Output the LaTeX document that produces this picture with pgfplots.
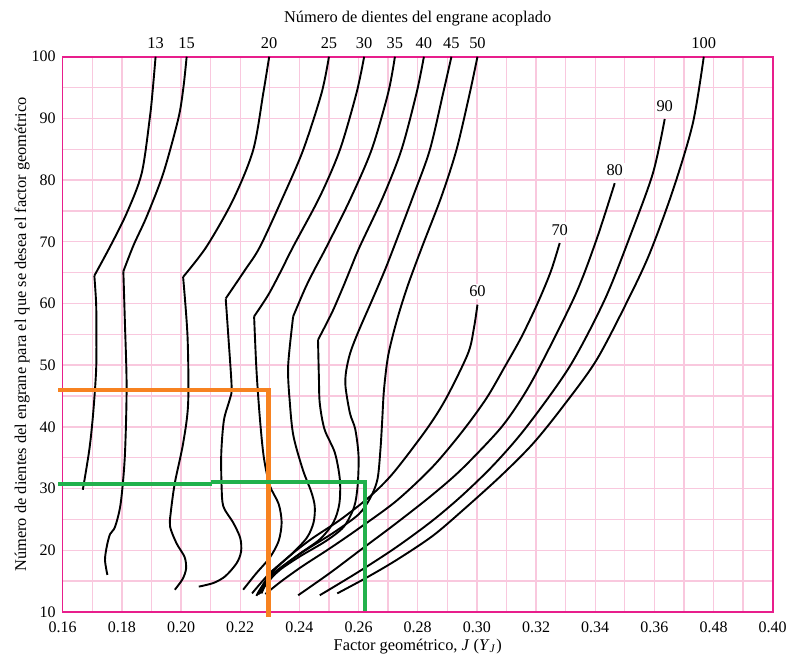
\documentclass[border=0pt]{standalone}
\usepackage{fontspec}
\setmainfont{Liberation Serif}
\usepackage{pgfplots}
\pgfplotsset{compat=1.18}
\definecolor{framepink}{RGB}{232,30,140}
\definecolor{gridpink}{RGB}{249,200,222}
\definecolor{myorange}{RGB}{247,130,32}
\definecolor{mygreen}{RGB}{34,177,76}
\newcommand\lbl{\fontsize{8.2}{9}\selectfont}
\tikzset{lab/.style={pos=0,anchor=south,yshift=2.3pt,fill=white,inner sep=1pt,font=\lbl}}
\pgfplotsset{crv/.style={black, solid, line width=0.95pt, mark=none, smooth}}
\begin{document}
\begin{tikzpicture}
\path[use as bounding box] (-31.35pt,-24.5pt) rectangle (363.65pt,305.95pt);
\begin{axis}[
  at={(0,0)}, anchor=south west,
  scale only axis, width=355pt, height=277.6pt,
  xmin=0.16, xmax=0.40, ymin=10, ymax=100,
  xtick={0.16,0.18,0.20,0.22,0.24,0.26,0.28,0.30,0.32,0.34,0.36,0.38,0.40},
  xticklabels={0.16,0.18,0.20,0.22,0.24,0.26,0.28,0.30,0.32,0.34,0.36,0.48,0.40},
  minor xtick={0.17,0.19,0.21,0.23,0.25,0.27,0.29,0.31,0.33,0.35,0.37,0.39},
  ytick={10,20,30,40,50,60,70,80,90,100},
  minor ytick={15,25,35,45,55,65,75,85,95},
  grid=both,
  major grid style={draw=gridpink, line width=0.7pt},
  minor grid style={draw=gridpink, line width=0.7pt},
  axis line style={draw=framepink, line width=0.8pt},
  major tick length=0pt, minor tick length=0pt,
  /pgf/number format/assume math mode=true,
  tick label style={font=\fontsize{8}{9}\selectfont},
  xticklabel style={yshift=-1.5pt},
  clip=false,
]
% 13
\addplot[crv] coordinates {(0.1914,100) (0.1905,95) (0.1895,90.3) (0.1867,81.1) (0.1816,74.6) (0.1760,69.2) (0.1707,64.5)};
\addplot[crv] coordinates {(0.1707,64.5) (0.1713,60) (0.1714,55) (0.1713,49.2) (0.1703,42.2) (0.1690,36.3) (0.1668,29.8)};
% 15
\addplot[crv] coordinates {(0.2019,100) (0.2008,95) (0.1991,90) (0.1940,81.1) (0.1884,74.1) (0.1840,69.5) (0.1805,65.2)};
\addplot[crv] coordinates {(0.1805,65.2) (0.1810,57.3) (0.1816,46.5) (0.1810,35.2) (0.1796,27.6) (0.1777,23.8) (0.1760,22.6) (0.1749,20.6) (0.1743,18.4) (0.1751,16.0)};
% 20
\addplot[crv] coordinates {(0.2298,100) (0.2278,94.1) (0.2244,84.9) (0.2176,76.8) (0.2086,69.2) (0.2007,64.3)};
\addplot[crv] coordinates {(0.2007,64.3) (0.2022,54.6) (0.2024,43.8) (0.2007,37.3) (0.1979,30.9) (0.1965,26) (0.1963,23.8) (0.1985,21.1) (0.2012,18.9) (0.2017,17.0) (0.2005,15.3) (0.1979,13.6)};
% 25
\addplot[crv] coordinates {(0.2500,100) (0.2475,94.1) (0.2413,84.9) (0.2345,77.3) (0.2267,69.2) (0.2216,65.4) (0.2151,60.8)};
\addplot[crv] coordinates {(0.2151,60.8) (0.2160,54.6) (0.2171,46.5) (0.2165,44.5) (0.2145,41.1) (0.2136,35.7) (0.2137,30.5) (0.2143,27.1) (0.2176,24.5) (0.2200,22.0) (0.2203,19.8) (0.2188,17.9) (0.2150,15.8) (0.2110,14.7) (0.2060,14.1)};
% 30
\addplot[crv] coordinates {(0.2619,100) (0.2593,94.1) (0.2537,84.9) (0.2469,77.3) (0.2379,69.2) (0.2335,65.0) (0.2295,61.4) (0.2247,57.9)};
\addplot[crv] coordinates {(0.2247,57.9) (0.2255,49.2) (0.2267,41.1) (0.2280,35.0) (0.2300,30.5) (0.2330,27.5) (0.2340,24.5) (0.2330,21.5) (0.2300,18.8) (0.2255,16.3) (0.2210,13.6)};
% 35
\addplot[crv] coordinates {(0.2723,100) (0.2700,94.1) (0.2644,84.9) (0.2571,76.8) (0.2492,69.2) (0.2450,65.4) (0.2420,62.5) (0.2379,57.9)};
\addplot[crv] coordinates {(0.2379,57.9) (0.2362,49.8) (0.2368,43.8) (0.2380,38.5) (0.2412,33.0) (0.2440,29.5) (0.2452,27.1) (0.2448,24.5) (0.2425,22.0) (0.2370,19.2) (0.2300,16.3) (0.2240,13.0)};
% 40
\addplot[crv] coordinates {(0.2821,100) (0.2796,94.1) (0.2745,84.9) (0.2683,77.3) (0.2604,69.2) (0.2571,65.4) (0.2548,62.7) (0.2510,58.5) (0.2463,54.1)};
\addplot[crv] coordinates {(0.2463,54.1) (0.2466,48) (0.2469,43.8) (0.2485,39.6) (0.2520,35.8) (0.2537,31.4) (0.2535,27.5) (0.2515,24.5) (0.2470,21.8) (0.2400,19.4) (0.2330,16.8) (0.2280,14.1) (0.2261,12.8)};
% 45
\addplot[crv] coordinates {(0.2914,100) (0.2886,94.1) (0.2841,84.9) (0.2784,77.3) (0.2720,69.2) (0.2689,65.4) (0.2650,61) (0.2600,55.5) (0.2572,52) (0.2558,49) (0.2556,46.5) (0.2571,42.2) (0.2589,39.6) (0.2600,35.3) (0.2597,30.5) (0.2585,27.0) (0.2550,23.8) (0.2490,21.5) (0.2402,19.0) (0.2334,16.8) (0.2289,14.6) (0.2272,13.0)};
% 50
\addplot[crv] coordinates {(0.3002,100) (0.2976,94.1) (0.2931,84.9) (0.2880,77.3) (0.2815,69.2) (0.2765,62.7) (0.2728,57.0) (0.2700,51.5) (0.2686,46.0) (0.2680,41.0) (0.2674,36.3) (0.2664,31.5) (0.2640,28.5) (0.2600,25.8) (0.2514,22.8) (0.2424,20.1) (0.2357,17.9) (0.2300,15.7) (0.2267,13.0)};
% 60
\addplot[crv] coordinates {(0.3002,59.8) (0.2990,56) (0.2970,51.9) (0.2897,44.7) (0.2830,39.6) (0.2717,32.5) (0.2638,28.7) (0.2540,25.0) (0.2440,21.8) (0.2360,18.8) (0.2300,16.0) (0.2265,13.5) (0.2255,12.6)} node[lab]{60};
% 70
\addplot[crv] coordinates {(0.3280,69.8) (0.3250,65.2) (0.3205,60.0) (0.3150,54.5) (0.3095,49.8) (0.3032,44.6) (0.2950,39.2) (0.2850,33.5) (0.2728,28.0) (0.2600,23.5) (0.2503,20.3) (0.2410,17.4) (0.2340,15.0) (0.2285,12.9)} node[lab]{70};
% 80
\addplot[crv] coordinates {(0.3466,79.5) (0.3404,70.3) (0.3333,61.4) (0.3213,49.8) (0.3150,44.5) (0.3077,39.6) (0.2950,33.2) (0.2850,29.0) (0.2728,24.4) (0.2600,19.8) (0.2503,16.3) (0.2396,12.7)} node[lab]{80};
% 90
\addplot[crv] coordinates {(0.3635,89.9) (0.3595,81.1) (0.3517,70.8) (0.3432,60.6) (0.3314,49.8) (0.3168,40.0) (0.3060,34.0) (0.2953,29.0) (0.2850,24.8) (0.2728,20.5) (0.2600,16.5) (0.2469,12.7)} node[lab]{90};
% 100
\addplot[crv] coordinates {(0.3767,100) (0.3730,89.2) (0.3663,78.4) (0.3584,68.1) (0.3511,60.6) (0.3404,50.8) (0.3291,43.3) (0.3190,37.3) (0.3080,32.0) (0.2953,26.5) (0.2850,22.3) (0.2728,18.4) (0.2625,15.5) (0.2528,13.0)};
% orange and green guides
\addplot[sharp plot, mark=none, myorange, line width=2.2pt, line join=miter] coordinates {(0.1585,46.0) (0.2295,46.0) (0.2295,9.2)};
\addplot[sharp plot, mark=none, mygreen, line width=2pt] coordinates {(0.1585,30.75) (0.2103,30.75)};
\addplot[sharp plot, mark=none, mygreen, line width=2pt, line join=miter] coordinates {(0.2100,31.0) (0.2622,31.0) (0.2622,10.1)};
% top labels
\foreach \j/\t in {0.1914/13,0.2019/15,0.2298/20,0.2500/25,0.2619/30,0.2723/35,0.2821/40,0.2914/45,0.3002/50,0.3767/100}{
  \edef\tmp{\noexpand\node[anchor=base,yshift=4pt,font=\noexpand\lbl] at (axis cs:\j,100) {\t};}\tmp
}
\node[anchor=base,yshift=17pt,font=\lbl] at (rel axis cs:0.5,1) {Número de dientes del engrane acoplado};
\node[anchor=base,yshift=-19.2pt,font=\lbl] at (rel axis cs:0.5,0) {Factor geométrico, \textit{J} (\textit{Y}\textsubscript{\textit{J}})};
\node[rotate=90,anchor=center,font=\lbl] at ([xshift=-20.3pt]rel axis cs:0,0.5) {Número de dientes del engrane para el que se desea el factor geométrico};
\end{axis}
\end{tikzpicture}
\end{document}
